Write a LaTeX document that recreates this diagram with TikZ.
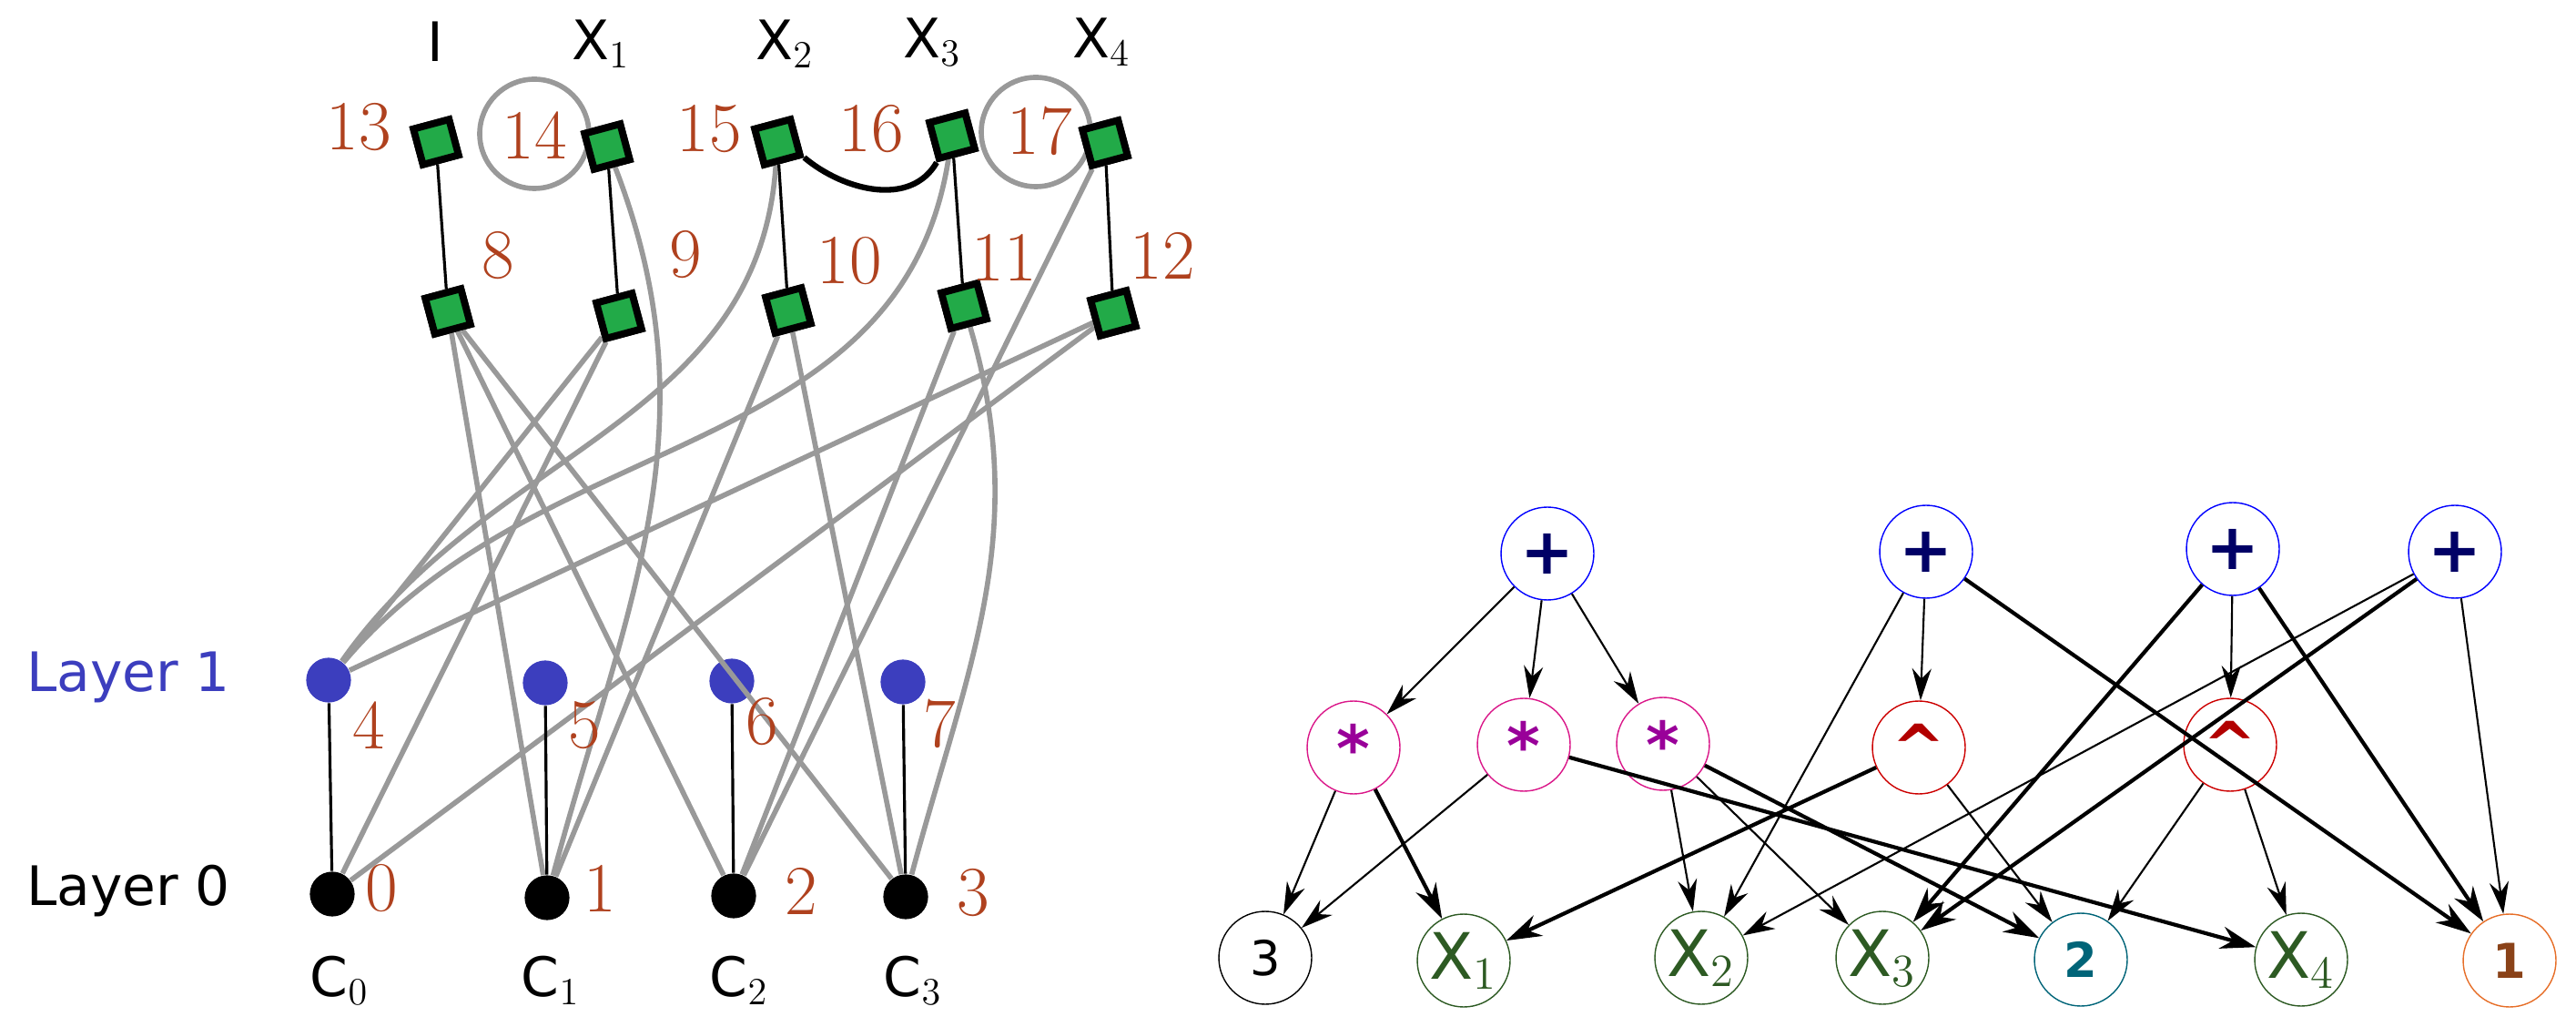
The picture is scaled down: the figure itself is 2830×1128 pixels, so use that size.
\documentclass[tikz,border=0pt]{standalone}
\usepackage{fontspec}
\newfontfamily\dvs{DejaVu Sans}
\usetikzlibrary{arrows.meta}
\definecolor{rust}{RGB}{175,65,30}
\definecolor{sqgreen}{RGB}{34,170,72}
\definecolor{lblue}{RGB}{60,62,190}
\definecolor{dgreen}{RGB}{45,90,35}
\definecolor{teal2}{RGB}{0,100,120}
\definecolor{orng}{RGB}{230,110,40}
\begin{document}
\begin{tikzpicture}[x=0.01cm,y=-0.01cm,
 sq/.style={draw=black,line width=2.2pt,fill=sqgreen,minimum size=11.5pt,inner sep=0,rotate=15},
 num/.style={text=rust,font=\fontsize{22}{22}\selectfont},
 lab/.style={font=\dvs\fontsize{17}{18}\selectfont},
 bdot/.style={circle,fill=lblue,minimum size=14pt,inner sep=0},
 kdot/.style={circle,fill=black,minimum size=14pt,inner sep=0},
 gr/.style={draw=black!40,line width=1.6pt},
 bl/.style={draw=black,line width=0.9pt},
 op/.style={circle,draw,minimum size=29pt,inner sep=0,font=\dvs\fontsize{20}{20}\selectfont},
 sm/.style={font=\dvs\fontsize{15}{15}\selectfont},
 ar/.style={-{Stealth[length=10pt,width=6pt]},line width=0.6pt},
 art/.style={-{Stealth[length=11pt,width=7pt]},line width=1.2pt}]
\useasboundingbox (0,0) rectangle (2830,1128);
\node[lab] (lI) at (478,46) {I};
\node[lab] (lX1) at (660,48) {X$_1$};
\node[lab] (lX2) at (862,48) {X$_2$};
\node[lab] (lX3) at (1024,46) {X$_3$};
\node[lab] (lX4) at (1210,46) {X$_4$};
\node[lab,text=lblue] (L1) at (141,744) {Layer 1};
\node[lab] (L0) at (141,979) {Layer 0};
\node[sq] (s13) at (479,156) {};
\node[sq] (s14) at (667,161) {};
\node[sq] (s15) at (854,156) {};
\node[sq] (s16) at (1046,149) {};
\node[sq] (s17) at (1214,157) {};
\node[sq] (s8) at (492,342) {};
\node[sq] (s9) at (680,347) {};
\node[sq] (s10) at (866,341) {};
\node[sq] (s11) at (1059,336) {};
\node[sq] (s12) at (1223,344) {};
\node[bdot] (b4) at (361,747) {};
\node[bdot] (b5) at (599,750) {};
\node[bdot] (b6) at (804,748) {};
\node[bdot] (b7) at (992,749) {};
\node[kdot] (k0) at (365,982) {};
\node[kdot] (k1) at (601,986) {};
\node[kdot] (k2) at (806,984) {};
\node[kdot] (k3) at (995,985) {};
\draw[gr] (587,147) circle (60);
\draw[gr] (1138,145) circle (60);
\draw[gr] (s8) -- (k1);
\draw[gr] (s8) -- (k2);
\draw[gr] (s8) -- (k3);
\draw[gr] (s9) -- (b4);
\draw[gr] (s9) -- (k0);
\draw[gr] (s14) to[out=-70,in=75] (k1);
\draw[gr] (s15) to[out=-95,in=55] (b4);
\draw[gr] (s16) to[out=-100,in=50] (b4);
\draw[gr] (s10) -- (k1);
\draw[gr] (s10) -- (k3);
\draw[gr] (s11) -- (k2);
\draw[gr] (s11) to[out=-75,in=75] (k3);
\draw[gr] (s12) -- (b4);
\draw[gr] (s12) -- (k0);
\draw[gr] (s17) -- (k2);
\draw[bl] (s13) -- (s8);
\draw[bl] (s14) -- (s9);
\draw[bl] (s15) -- (s10);
\draw[bl] (s16) -- (s11);
\draw[bl] (s17) -- (s12);
\draw[bl] (b4) -- (k0);
\draw[bl] (b5) -- (k1);
\draw[bl] (b6) -- (k2);
\draw[bl] (b7) -- (k3);
\draw[draw=black,line width=1.8pt] (s15.south east) to[out=-40,in=-120] (s16.south west);
\foreach \n/\x/\y in {a/479/156,b/667/161,c/854/156,d/1046/149,e/1214/157,f/492/342,g/680/347,h/866/341,i/1059/336,j/1223/344}
  \node[sq] (r\n) at (\x,\y) {};
\node[num] (n13) at (394,140) {13};
\node[num] (n14) at (587,149) {14};
\node[num] (n15) at (779,142) {15};
\node[num] (n16) at (957,142) {16};
\node[num] (n17) at (1142,144) {17};
\node[num] (n8) at (547,281) {8};
\node[num] (n9) at (753,280) {9};
\node[num] (n10) at (933,287) {10};
\node[num] (n11) at (1103,283) {11};
\node[num] (n12) at (1277,281) {12};
\node[num] (n4) at (405,797) {4};
\node[num] (n5) at (642,797) {5};
\node[num] (n6) at (837,793) {6};
\node[num] (n7) at (1032,795) {7};
\node[num] (n0) at (419,976) {0};
\node[num] (n1) at (659,976) {1};
\node[num] (n2) at (880,979) {2};
\node[num] (n3) at (1069,981) {3};
\node[lab] (c0) at (373,1077) {C$_0$};
\node[lab] (c1) at (605,1077) {C$_1$};
\node[lab] (c2) at (812,1077) {C$_2$};
\node[lab] (c3) at (1003,1077) {C$_3$};
\node[op,draw=blue,text=blue!40!black] (p1) at (1700,608) {\textbf{+}};
\node[op,draw=blue,text=blue!40!black] (p2) at (2116,606) {\textbf{+}};
\node[op,draw=blue,text=blue!40!black] (p3) at (2453,603) {\textbf{+}};
\node[op,draw=blue,text=blue!40!black] (p4) at (2697,606) {\textbf{+}};
\node[op,draw=magenta!80!violet,text=violet!80!magenta] (m1) at (1487,821) {\textbf{*}};
\node[op,draw=magenta!80!violet,text=violet!80!magenta] (m2) at (1674,818) {\textbf{*}};
\node[op,draw=magenta!80!violet,text=violet!80!magenta] (m3) at (1827,817) {\textbf{*}};
\node[op,draw=red!80!black,text=red!70!black] (h1) at (2108,821) {\textbf{\textasciicircum}};
\node[op,draw=red!80!black,text=red!70!black] (h2) at (2450,818) {\textbf{\textasciicircum}};
\node[op,sm,draw=black,text=black] (t3) at (1390,1052) {3};
\node[op,draw=dgreen,text=dgreen] (x1) at (1608,1055) {X$_1$};
\node[op,draw=dgreen,text=dgreen] (x2) at (1869,1052) {X$_2$};
\node[op,draw=dgreen,text=dgreen] (x3) at (2068,1052) {X$_3$};
\node[op,sm,draw=teal2,text=teal2] (t2) at (2286,1054) {\textbf{2}};
\node[op,draw=dgreen,text=dgreen] (x4) at (2528,1054) {X$_4$};
\node[op,sm,draw=orng,text=orng!60!black] (t1) at (2757,1055) {\textbf{1}};
\draw[ar] (p1) -- (m1); \draw[ar] (p1) -- (m2); \draw[ar] (p1) -- (m3);
\draw[ar] (p2) -- (x2); \draw[ar] (p2) -- (h1); \draw[art] (p2) -- (t1);
\draw[art] (p3) -- (x3); \draw[ar] (p3) -- (h2); \draw[art] (p3) -- (t1);
\draw[ar] (p4) -- (x2); \draw[art] (p4) -- (x3); \draw[ar] (p4) -- (t1);
\draw[ar] (m1) -- (t3); \draw[art] (m1) -- (x1);
\draw[ar] (m2) -- (t3); \draw[art] (m2) -- (x4);
\draw[ar] (m3) -- (x2); \draw[ar] (m3) -- (x3); \draw[art] (m3) -- (t2);
\draw[art] (h1) -- (x1); \draw[ar] (h1) -- (t2);
\draw[ar] (h2) -- (t2); \draw[ar] (h2) -- (x4);
\end{tikzpicture}
\end{document}
